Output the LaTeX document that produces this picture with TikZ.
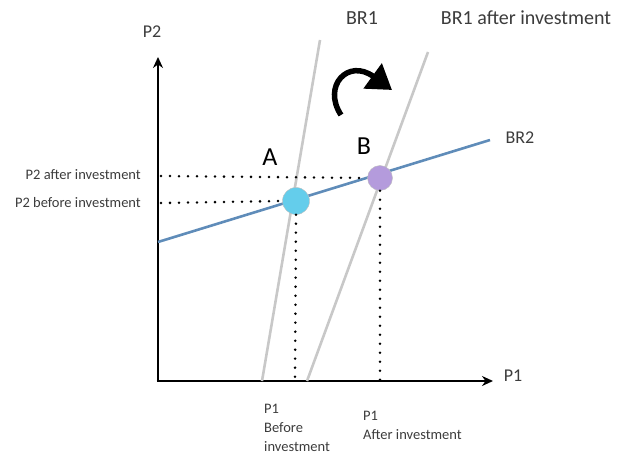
\documentclass[tikz,border=0pt]{standalone}
\usepackage{fontspec}
\setmainfont{Carlito}
\usetikzlibrary{arrows.meta, positioning}
\definecolor{brgray}{RGB}{200,200,200}
\definecolor{brblue}{RGB}{95,140,185}
\definecolor{ptcyan}{RGB}{100,205,235}
\definecolor{ptpurple}{RGB}{180,155,220}
\definecolor{txtgray}{RGB}{60,60,60}
\tikzset{
  axis/.style={-{Stealth[length=11pt,width=10pt]}, line width=2.6pt},
  brline/.style={line width=2.6pt, brgray},
  dots/.style={line width=2.8pt, dash pattern=on 0pt off 9pt, line cap=round},
  eq/.style={circle, minimum size=27pt, inner sep=0pt, draw=black!25},
  lbl/.style={font=\fontsize{18}{20}\selectfont, text=txtgray, inner sep=1pt},
  small/.style={font=\fontsize{14.5}{19}\selectfont, text=txtgray, inner sep=0pt, align=left}
}
\begin{document}
\begin{tikzpicture}[x=1pt, y=-1pt]
  \useasboundingbox (0,0) rectangle (624,457);
  % axes
  \coordinate (o) at (158,381);
  \coordinate (ytop) at (158,57);
  \coordinate (xend) at (493,381);
  \draw[axis] (o) -- (ytop);
  \draw[axis] ([xshift=-1.3pt]o) -- (xend);
  \node[lbl] (p2) at (152,32) {P2};
  \node[lbl] (p1) at (513,376) {P1};
  % best responses
  \coordinate (b1s) at (262,381);
  \coordinate (b1e) at (320,40);
  \coordinate (b1as) at (307,381);
  \coordinate (b1ae) at (428,52);
  \draw[brline] (b1s) -- (b1e);
  \draw[brline] (b1as) -- (b1ae);
  \coordinate (b2s) at (158,242);
  \coordinate (b2e) at (490,140);
  \draw[line width=2.6pt, brblue] (b2s) -- (b2e);
  \node[lbl, font=\fontsize{20}{22}\selectfont] (br1) at (362,18) {BR1};
  \node[lbl, font=\fontsize{20}{22}\selectfont] (br1a) at (526,18) {BR1 after investment};
  \node[lbl] (br2) at (520,138) {BR2};
  % equilibria
  \node[eq, fill=ptcyan] (a) at (296,201) {};
  \node[eq, fill=ptpurple, minimum size=25pt] (b) at (380,178) {};
  \node[font=\fontsize{26}{28}\selectfont] (la) at (270,157) {A};
  \node[font=\fontsize{26}{28}\selectfont] (lb) at (364,146) {B};
  % dotted guides
  \draw[dots] (161,176) -- (b.west);
  \draw[dots] (161,203) -- (a.west);
  \draw[dots] (a.south) -- (295,381);
  \draw[dots] (b.south) -- (380,381);
  % axis labels
  \node[small, anchor=east] (p2a) at (141,175) {P2 after investment};
  \node[small, anchor=east] (p2b) at (141,203) {P2 before investment};
  \node[small, anchor=north west] (p1b) at (264,404) {P1\\Before\\investment};
  \node[small, anchor=north west] (p1a) at (363,411) {P1\\After investment};
  % rotation arrow
  \coordinate (rs) at (341,115);
  \coordinate (re) at (392,90);
  \draw[line width=5.5pt, -{Triangle[length=24pt,width=30pt]}] (rs) .. controls (322,86) and (348,58) .. (re);
\end{tikzpicture}
\end{document}
